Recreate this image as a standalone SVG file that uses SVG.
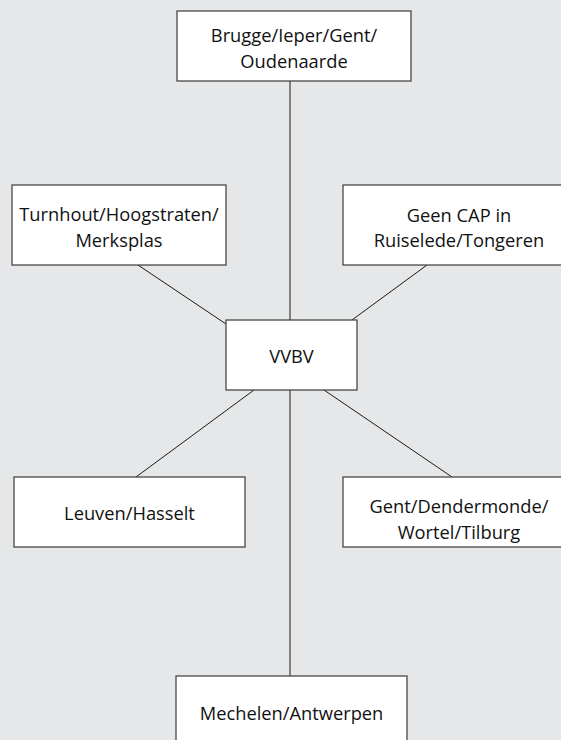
<svg xmlns="http://www.w3.org/2000/svg" width="561" height="740" viewBox="0 0 561 740">
<style>
.bg{fill:#e6e7e8}
.box{fill:#ffffff;stroke:#3a3a3a;stroke-width:1.2}
.lbl{font-family:"Open Sans","Noto Sans","Liberation Sans",sans-serif;font-size:18.3px;fill:#111111;text-anchor:middle}
.conn line{stroke:#1a1a1a;stroke-width:1}
</style>
<rect class="bg" x="0" y="0" width="561" height="740"/>
<g id="connectors" class="conn">
<line x1="290" y1="81" x2="290" y2="320"/>
<line x1="290" y1="390" x2="290" y2="676"/>
<line x1="138" y1="265" x2="226" y2="324"/>
<line x1="427" y1="265" x2="352" y2="320"/>
<line x1="254" y1="390" x2="136" y2="477"/>
<line x1="324" y1="390" x2="452" y2="477"/>
</g>
<g id="brugge">
<rect class="box" x="177" y="11" width="234" height="70"/>
<text class="lbl" x="294" y="41.5">Brugge/Ieper/Gent/</text>
<text class="lbl" x="294" y="68">Oudenaarde</text>
</g>
<g id="turnhout">
<rect class="box" x="12" y="185" width="214" height="80"/>
<text class="lbl" x="119" y="221">Turnhout/Hoogstraten/</text>
<text class="lbl" x="119" y="247">Merksplas</text>
</g>
<g id="geencap">
<rect class="box" x="343" y="185" width="232" height="80"/>
<text class="lbl" x="459" y="222">Geen CAP in</text>
<text class="lbl" x="459" y="247">Ruiselede/Tongeren</text>
</g>
<g id="vvbv">
<rect class="box" x="226" y="320" width="131" height="70"/>
<text class="lbl" x="291.5" y="363">VVBV</text>
</g>
<g id="leuven">
<rect class="box" x="14" y="477" width="231" height="70"/>
<text class="lbl" x="129.5" y="520">Leuven/Hasselt</text>
</g>
<g id="gent">
<rect class="box" x="343" y="477" width="232" height="70"/>
<text class="lbl" x="459" y="513">Gent/Dendermonde/</text>
<text class="lbl" x="459" y="539">Wortel/Tilburg</text>
</g>
<g id="mechelen">
<rect class="box" x="176" y="676" width="231" height="80"/>
<text class="lbl" x="291.5" y="720">Mechelen/Antwerpen</text>
</g>
</svg>
